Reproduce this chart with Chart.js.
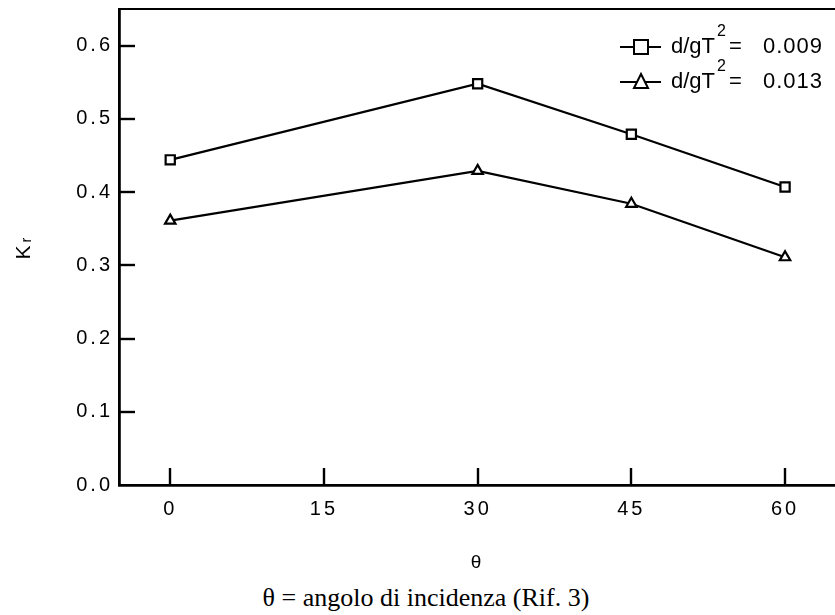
<!DOCTYPE html>
<html>
<head>
<meta charset="utf-8">
<script src="https://cdn.jsdelivr.net/npm/chart.js@4/dist/chart.umd.min.js"></script>
<style>
  html, body { margin: 0; padding: 0; background: #fff; }
  #wrap { position: relative; width: 835px; height: 615px; overflow: hidden; }
  #box { position: absolute; left: 0; top: 0; width: 845px; height: 580px; }
  #caption { position: absolute; left: 0; top: 583px; width: 852px; text-align: center;
    font-family: "Liberation Serif", "Times New Roman", serif; font-size: 26px; line-height: 29px; color: #000; }
</style>
</head>
<body>
<div id="wrap">
  <div id="box"><canvas id="c" width="845" height="580"></canvas></div>
  <div id="caption">θ = angolo di incidenza (Rif. 3)</div>
</div>
<script>
const angles = [0, 30, 45, 60];
const krSmall = [0.444, 0.548, 0.479, 0.407];   // d/gT^2 = 0.009
const krLarge = [0.361, 0.429, 0.384, 0.311];   // d/gT^2 = 0.013
const xTicks = [0, 15, 30, 45, 60];
const yTicks = [0.0, 0.1, 0.2, 0.3, 0.4, 0.5, 0.6];
const seriesLabels = ['d/gT² = 0.009', 'd/gT² = 0.013'];
const legendValues = ['0.009', '0.013'];

const FONT = '"Liberation Sans", Arial, Helvetica, sans-serif';

const framePlugin = {
  id: 'frame',
  beforeDraw(chart) { chart.ctx.letterSpacing = '3px'; },
  afterDraw(chart) {
    const ctx = chart.ctx;
    const a = chart.chartArea;
    const xs = chart.scales.x, ys = chart.scales.y;
    ctx.save();
    ctx.letterSpacing = '0px';
    ctx.strokeStyle = '#000';
    ctx.lineWidth = 2.2;
    // top border
    ctx.beginPath(); ctx.moveTo(a.left, a.top); ctx.lineTo(a.right, a.top); ctx.stroke();
    // inward ticks
    ctx.lineWidth = 2.4;
    yTicks.forEach(v => {
      if (v === 0) return;
      const y = Math.round(ys.getPixelForValue(v));
      ctx.beginPath(); ctx.moveTo(a.left, y); ctx.lineTo(a.left + 16, y); ctx.stroke();
    });
    xTicks.forEach(v => {
      const x = Math.round(xs.getPixelForValue(v));
      ctx.beginPath(); ctx.moveTo(x, a.bottom); ctx.lineTo(x, a.bottom - 17); ctx.stroke();
    });
    // legend
    const rows = [{y: 47, style: 'rect'}, {y: 82, style: 'triangle'}];
    rows.forEach((r, i) => {
      ctx.lineWidth = 2;
      ctx.strokeStyle = '#000';
      ctx.beginPath(); ctx.moveTo(620, r.y); ctx.lineTo(661, r.y); ctx.stroke();
      ctx.fillStyle = '#fff';
      ctx.beginPath();
      if (r.style === 'rect') {
        ctx.rect(634, r.y - 7, 14, 14);
      } else {
        ctx.moveTo(641, r.y - 8); ctx.lineTo(648, r.y + 6); ctx.lineTo(634, r.y + 6); ctx.closePath();
      }
      ctx.fill(); ctx.stroke();
      ctx.fillStyle = '#000';
      ctx.textBaseline = 'middle';
      ctx.textAlign = 'left';
      ctx.font = '22px ' + FONT;
      ctx.fillText('d/gT', 671, r.y);
      const w = ctx.measureText('d/gT').width;
      ctx.font = '16px ' + FONT;
      ctx.fillText('2', 671 + w + 2, r.y - 15);
      ctx.font = '22px ' + FONT;
      ctx.fillText('=', 671 + w + 14, r.y);
      ctx.textAlign = 'right';
      ctx.letterSpacing = '1px';
      ctx.fillText(legendValues[i], 823, r.y);
      ctx.letterSpacing = '0px';
    });
    ctx.restore();
  }
};

new Chart(document.getElementById('c'), {
  type: 'line',
  data: {
    datasets: [
      {
        label: seriesLabels[0],
        data: angles.map((a, i) => ({x: a, y: krSmall[i]})),
        borderColor: '#000', borderWidth: 2.2,
        pointStyle: 'rect', pointRadius: 6.5, pointBorderWidth: 2.2,
        pointBackgroundColor: '#fff', pointBorderColor: '#000',
        tension: 0
      },
      {
        label: seriesLabels[1],
        data: angles.map((a, i) => ({x: a, y: krLarge[i]})),
        borderColor: '#000', borderWidth: 2.2,
        pointStyle: 'triangle', pointRadius: 6, pointBorderWidth: 2.2,
        pointBackgroundColor: '#fff', pointBorderColor: '#000',
        tension: 0
      }
    ]
  },
  options: {
    responsive: false,
    animation: false,
    events: [],
    layout: { padding: { left: 0, top: 9, right: 3, bottom: 0 } },
    plugins: { legend: { display: false }, tooltip: { enabled: false } },
    scales: {
      x: {
        type: 'linear', min: -5, max: 65,
        afterBuildTicks(s) { s.ticks = xTicks.map(v => ({value: v})); },
        afterFit(s) { s.height = 95; s.paddingLeft = 0; s.paddingRight = 0; },
        grid: { display: true, drawOnChartArea: false, drawTicks: false },
        border: { display: true, color: '#000', width: 2.8 },
        ticks: { color: '#000', padding: 12, font: { family: FONT, size: 20 }, maxRotation: 0 },
        title: { display: true, text: 'θ', color: '#000', font: { family: FONT, size: 19 }, padding: { top: 0, bottom: 6 } }
      },
      y: {
        min: 0, max: 0.65,
        afterBuildTicks(s) { s.ticks = yTicks.map(v => ({value: v})); },
        afterFit(s) { s.width = 119; s.paddingTop = 0; s.paddingBottom = 0; },
        grid: { display: true, drawOnChartArea: false, drawTicks: false },
        border: { display: true, color: '#000', width: 2.8 },
        ticks: { color: '#000', padding: 6, font: { family: FONT, size: 20 },
          callback: v => Number(v).toFixed(1) },
        title: { display: true, text: 'Kᵣ', color: '#000', font: { family: FONT, size: 21 }, padding: { top: 12, bottom: 0 } }
      }
    }
  },
  plugins: [framePlugin]
});
</script>
</body>
</html>
